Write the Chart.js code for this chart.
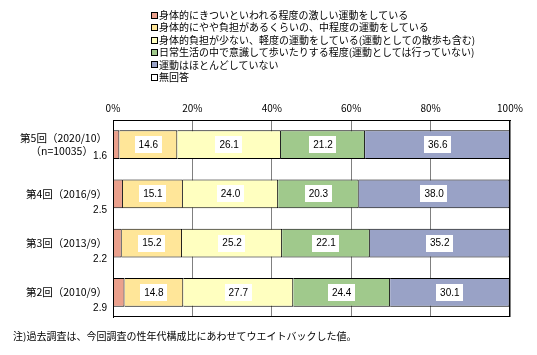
<!DOCTYPE html>
<html><head><meta charset="utf-8">
<script src="https://cdn.jsdelivr.net/npm/chart.js@4"></script>
<style>
html,body{margin:0;padding:0;background:#fff;}
#wrap{position:relative;width:537px;height:355px;overflow:hidden;}
canvas{position:absolute;left:0;top:0;}
#legend{position:absolute;left:151px;top:9px;font:10px 'Noto Sans CJK JP';color:#000;}
.item{white-space:nowrap;height:12.4px;line-height:12.4px;}
.sw{display:inline-block;width:5px;height:5px;border:1px solid #000;margin-right:1px;vertical-align:middle;position:relative;top:-1px;}
#note{position:absolute;left:13px;top:329px;font:10px 'Noto Sans CJK JP';white-space:nowrap;color:#000;line-height:13px;}
</style></head>
<body><div id="wrap"><canvas id="c" width="537" height="355"></canvas><div id="legend"></div><div id="note">注)過去調査は、今回調査の性年代構成比にあわせてウエイトバックした値。</div></div>
<script>
const categories = [['第5回（2020/10）', '（n=10035）\u00A0\u00A0\u00A0\u00A0\u00A0\u00A0'], '第4回（2016/9）', '第3回（2013/9）', '第2回（2010/9）'];
const seriesNames = [
  '身体的にきついといわれる程度の激しい運動をしている',
  '身体的にやや負担があるくらいの、中程度の運動をしている',
  '身体的負担が少ない、軽度の運動をしている(運動としての散歩も含む)',
  '日常生活の中で意識して歩いたりする程度(運動としては行っていない)',
  '運動はほとんどしていない',
  '無回答'
];
const hardExercise = [1.6, 2.5, 2.2, 2.9];
const moderateExercise = [14.6, 15.1, 15.2, 14.8];
const lightExercise = [26.1, 24.0, 25.2, 27.7];
const dailyWalking = [21.2, 20.3, 22.1, 24.4];
const noExercise = [36.6, 38.0, 35.2, 30.1];
const noAnswer = [0, 0, 0, 0];
const xTickValues = [0, 20, 40, 60, 80, 100];

const colors = ['#EBA08C', '#FFE699', '#FFFFC0', '#A0C98C', '#99A2C6', '#FFFFFF'];
const seriesData = [hardExercise, moderateExercise, lightExercise, dailyWalking, noExercise, noAnswer];

// HTML legend
const lg = document.getElementById('legend');
seriesNames.forEach((n, i) => {
  const d = document.createElement('div');
  d.className = 'item';
  const s = document.createElement('span');
  s.className = 'sw';
  s.style.background = colors[i];
  d.appendChild(s);
  d.appendChild(document.createTextNode(n));
  lg.appendChild(d);
});

const FONT = "'Noto Sans CJK JP', 'Noto Sans', sans-serif";

const labelPlugin = {
  id: 'valueLabels',
  afterDatasetsDraw(chart) {
    const ctx = chart.ctx;
    const ca = chart.chartArea;
    ctx.save();
    // frame
    ctx.strokeStyle = '#000';
    ctx.lineWidth = 1;
    ctx.strokeRect(ca.left + 0.5, ca.top + 0.5, ca.right - ca.left - 1, ca.bottom - ca.top - 1);
    ctx.font = "10px 'Liberation Sans', Arial, sans-serif";
    ctx.textBaseline = 'middle';
    chart.data.datasets.forEach((ds, di) => {
      const meta = chart.getDatasetMeta(di);
      meta.data.forEach((el, i) => {
        const v = ds.data[i];
        if (!v) return;
        const txt = v.toFixed(1);
        if (di === 0) {
          ctx.fillStyle = '#000';
          ctx.textAlign = 'right';
          const off = i === 0 ? -3 : 2;
          ctx.fillText(txt, ca.left - 6, el.y + el.height / 2 + off);
        } else {
          const cx = (el.x + el.base) / 2;
          const w = ctx.measureText(txt).width + 8;
          const h = 17;
          ctx.fillStyle = '#fff';
          ctx.fillRect(Math.round(cx - w / 2), Math.round(el.y - h / 2), Math.round(w), h);
          ctx.fillStyle = '#000';
          ctx.textAlign = 'center';
          ctx.fillText(txt, cx, el.y + 0.5);
        }
      });
    });
    ctx.restore();
  }
};

new Chart(document.getElementById('c'), {
  type: 'bar',
  data: {
    labels: categories,
    datasets: seriesData.map((d, i) => ({
      label: seriesNames[i],
      data: d,
      backgroundColor: colors[i],
      borderColor: '#000',
      borderWidth: i === 5 ? 0 : 1,
      borderSkipped: 'start',
      categoryPercentage: 1,
      barPercentage: 0.58
    }))
  },
  options: {
    indexAxis: 'y',
    responsive: false,
    animation: false,
    devicePixelRatio: 1,
    layout: { padding: { top: 95, right: 27, bottom: 38, left: 0 } },
    plugins: { legend: { display: false }, tooltip: { enabled: false } },
    scales: {
      x: {
        position: 'top',
        stacked: true,
        min: 0, max: 100,
        afterFit(s) { s.height = 25; },
        afterBuildTicks(s) { s.ticks = xTickValues.map(v => ({ value: v })); },
        ticks: { callback: v => v + '%', color: '#000', padding: 6, font: { family: FONT, size: 10 }, maxRotation: 0 },
        grid: { color: '#808080', drawTicks: false, lineWidth: 1 },
        border: { display: true, color: '#000' }
      },
      y: {
        stacked: true,
        afterFit(s) { s.width = 113; },
        ticks: { color: '#000', padding: 6, font: { family: FONT, size: 10.5, lineHeight: 1.3 } },
        grid: { display: false, drawTicks: false },
        border: { display: true, color: '#000' }
      }
    }
  },
  plugins: [labelPlugin]
});
</script>
</body></html>
